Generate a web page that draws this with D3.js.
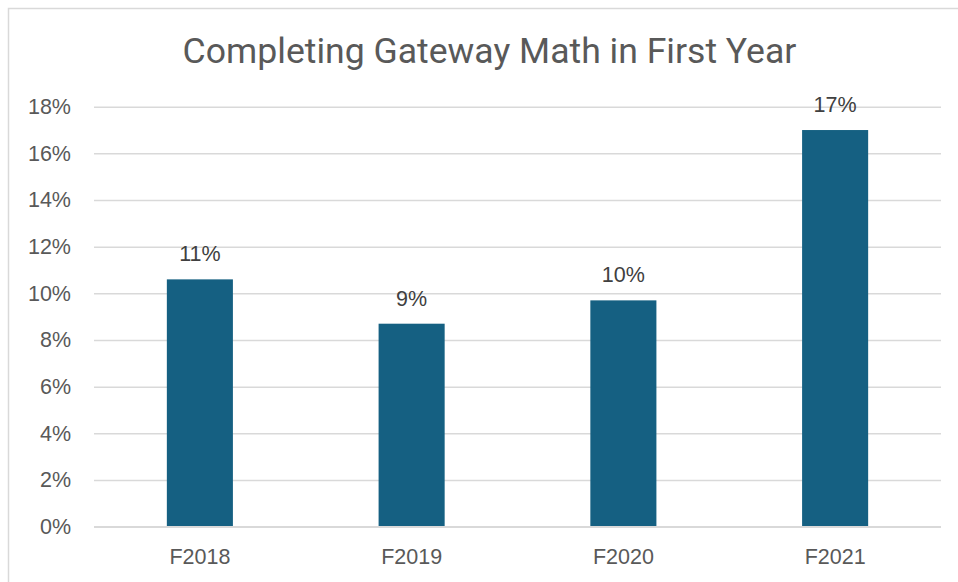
<!DOCTYPE html>
<html>
<head>
<meta charset="utf-8">
<script src="https://cdn.jsdelivr.net/npm/d3@7"></script>
<style>
  html, body { margin: 0; padding: 0; background: #ffffff; }
  svg { display: block; }
</style>
</head>
<body>
<svg id="chart" width="958" height="582"></svg>
<script>
const title = "Completing Gateway Math in First Year";
const categories = ["F2018", "F2019", "F2020", "F2021"];
const values = [0.106, 0.087, 0.097, 0.170];
const dataLabels = ["11%", "9%", "10%", "17%"];
const yTicks = [0, 0.02, 0.04, 0.06, 0.08, 0.10, 0.12, 0.14, 0.16, 0.18];

const svg = d3.select("#chart");
const W = 958, H = 582;
const plot = { left: 94, right: 941, top: 106.7, bottom: 526.7 };

// chart border (only top and left visible in frame)
svg.append("rect")
  .attr("x", 8.5).attr("y", 8.5)
  .attr("width", W + 20).attr("height", H + 20)
  .attr("fill", "#ffffff").attr("stroke", "#d9d9d9").attr("stroke-width", 1.5);

const x = d3.scaleBand().domain(categories).range([plot.left, plot.right]).paddingInner(0.688).paddingOuter(0.344);
const y = d3.scaleLinear().domain([0, 0.18]).range([plot.bottom, plot.top]);

// gridlines
const yAxis = d3.axisLeft(y).tickValues(yTicks).tickFormat(d3.format(".0%"))
  .tickSize(-(plot.right - plot.left)).tickPadding(23);
const gy = svg.append("g").attr("transform", `translate(${plot.left},0)`).call(yAxis);
gy.select(".domain").remove();
gy.selectAll(".tick line").attr("stroke", "#d9d9d9").attr("stroke-width", 1.5);
gy.selectAll(".tick text")
  .attr("fill", "#595959")
  .style("font-family", "'Liberation Sans', Arial, sans-serif")
  .style("font-size", "21.5px");

// bars
svg.append("g").selectAll("rect").data(values).join("rect")
  .attr("x", (d, i) => x(categories[i]))
  .attr("y", d => y(d))
  .attr("width", x.bandwidth())
  .attr("height", d => y(0) - y(d))
  .attr("fill", "#156082");

// x axis
const xAxis = d3.axisBottom(x).tickSize(0).tickPadding(0);
const gx = svg.append("g").attr("transform", `translate(0,${plot.bottom})`).call(xAxis);
gx.select(".domain").attr("stroke", "#d9d9d9").attr("stroke-width", 1.5)
  .attr("d", `M${plot.left},0H${plot.right}`);
gx.selectAll(".tick text")
  .attr("dy", null).attr("y", 37.5)
  .attr("fill", "#595959")
  .style("font-family", "'Liberation Sans', Arial, sans-serif")
  .style("font-size", "21.5px");

// data labels
svg.append("g").selectAll("text").data(values).join("text")
  .attr("x", (d, i) => x(categories[i]) + x.bandwidth() / 2)
  .attr("y", d => y(d) - 18)
  .attr("text-anchor", "middle")
  .attr("fill", "#404040")
  .style("font-family", "'Liberation Sans', Arial, sans-serif")
  .style("font-size", "21.5px")
  .text((d, i) => dataLabels[i]);

// title
const t = svg.append("text")
  .attr("x", 489.5).attr("y", 63.3)
  .attr("text-anchor", "middle")
  .attr("fill", "#595959")
  .style("font-family", "Roboto, 'Noto Sans', sans-serif")
  .style("font-size", "32px")
  .text(title);
const w = t.node().getComputedTextLength();
const targetW = 614;
if (w > 0) t.style("font-size", (32 * targetW / w).toFixed(2) + "px");
</script>
</body>
</html>
